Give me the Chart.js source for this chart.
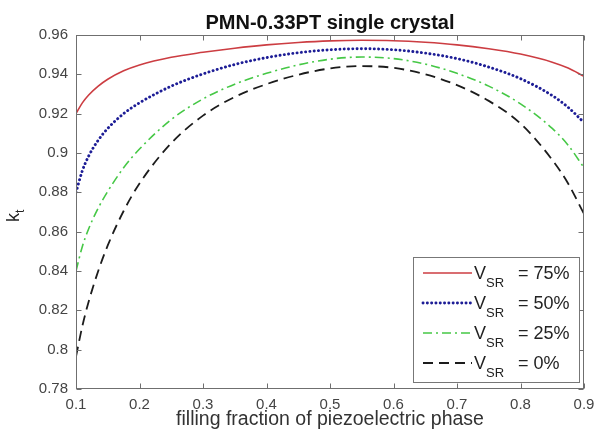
<!DOCTYPE html>
<html>
<head>
<meta charset="utf-8">
<script src="https://cdn.jsdelivr.net/npm/chart.js@4"></script>
<style>
html, body { margin: 0; padding: 0; background: #fff; }
</style>
</head>
<body>
<canvas id="chart" width="595" height="436"></canvas>
<script>
// filling fraction of piezoelectric phase
const fillFraction = [0.1, 0.11, 0.12, 0.135, 0.15, 0.175, 0.2, 0.25, 0.3, 0.35, 0.4, 0.45, 0.5, 0.55, 0.6, 0.65, 0.7, 0.75, 0.8, 0.85, 0.875, 0.9];

// k_t for each V_SR
const kt75 = [0.920, 0.9255, 0.9295, 0.934, 0.9375, 0.9418, 0.9448, 0.9487, 0.9512, 0.9533, 0.955, 0.9562, 0.957, 0.9573, 0.9571, 0.9563, 0.955, 0.953, 0.9503, 0.9462, 0.9432, 0.939];
const kt50 = [0.880, 0.891, 0.8985, 0.9065, 0.9125, 0.920, 0.9255, 0.934, 0.9402, 0.945, 0.9485, 0.951, 0.9525, 0.953, 0.9525, 0.9508, 0.948, 0.9437, 0.9378, 0.9292, 0.9232, 0.9155];
const kt25 = [0.840, 0.8525, 0.8615, 0.872, 0.8805, 0.8925, 0.902, 0.917, 0.9275, 0.935, 0.9405, 0.9448, 0.9477, 0.9488, 0.948, 0.9452, 0.9405, 0.934, 0.925, 0.9125, 0.904, 0.8925];
const kt0  = [0.7965, 0.812, 0.8245, 0.840, 0.853, 0.8705, 0.8845, 0.905, 0.919, 0.9285, 0.935, 0.9398, 0.943, 0.9442, 0.9433, 0.940, 0.9345, 0.9265, 0.915, 0.8965, 0.8845, 0.869];

const vsrLabels = ["= 75%", "= 50%", "= 25%", "= 0%"];

const FONT = "'Liberation Sans', Arial, sans-serif";

function pts(vals) {
    return fillFraction.map((x, i) => ({x: x, y: vals[i]}));
}

function fmt(v) {
    return String(Number(v.toFixed(2)));
}

// frame, inward ticks, legend with subscripts, y label
const decor = {
    id: 'decor',
    afterDraw(chart) {
        const ctx = chart.ctx;
        const a = chart.chartArea;
        const xs = chart.scales.x, ys = chart.scales.y;
        const L = Math.round(a.left) + 0.5, R = Math.round(a.right) - 0.5;
        const T = Math.round(a.top) + 0.5, B = Math.round(a.bottom) - 0.5;
        ctx.save();
        ctx.strokeStyle = '#6f6f6f';
        ctx.lineWidth = 1;
        ctx.setLineDash([]);
        ctx.beginPath();
        xs.ticks.forEach(t => {
            const px = Math.round(xs.getPixelForValue(t.value)) + 0.5;
            ctx.moveTo(px, B); ctx.lineTo(px, B - 5);
            ctx.moveTo(px, T); ctx.lineTo(px, T + 5);
        });
        ys.ticks.forEach(t => {
            const py = Math.round(ys.getPixelForValue(t.value)) + 0.5;
            ctx.moveTo(L, py); ctx.lineTo(L + 5, py);
            ctx.moveTo(R, py); ctx.lineTo(R - 5, py);
        });
        ctx.stroke();
        ctx.strokeRect(L, T, R - L, B - T);

        // legend
        const bx = a.right - 171, by = a.bottom - 132, bw = 166, bh = 125;
        ctx.fillStyle = '#fff';
        ctx.fillRect(bx, by, bw, bh);
        ctx.strokeStyle = '#777';
        ctx.strokeRect(Math.round(bx) + 0.5, Math.round(by) + 0.5, bw, bh);
        chart.data.datasets.forEach((ds, i) => {
            const y = by + 16 + i * 30;
            ctx.save();
            ctx.strokeStyle = ds.borderColor;
            ctx.lineWidth = ds.borderWidth;
            ctx.lineCap = ds.borderCapStyle || 'butt';
            ctx.setLineDash(ds.borderDash || []);
            ctx.beginPath();
            ctx.moveTo(bx + 10, y);
            ctx.lineTo(bx + 59, y);
            ctx.stroke();
            ctx.restore();
            ctx.fillStyle = '#222';
            ctx.textBaseline = 'alphabetic';
            ctx.textAlign = 'left';
            ctx.font = '18px ' + FONT;
            ctx.fillText('V', bx + 61, y + 6);
            const vw = ctx.measureText('V').width;
            ctx.font = '13px ' + FONT;
            ctx.fillText('SR', bx + 61 + vw, y + 14);
            ctx.font = '18px ' + FONT;
            ctx.fillText(vsrLabels[i], bx + 105, y + 6);
        });

        // y axis label k_t
        ctx.save();
        ctx.translate(19, (a.top + a.bottom) / 2 + 4);
        ctx.rotate(-Math.PI / 2);
        ctx.fillStyle = '#222';
        ctx.textAlign = 'left';
        ctx.textBaseline = 'alphabetic';
        ctx.font = '18px ' + FONT;
        ctx.fillText('k', -6, 0);
        const kw = ctx.measureText('k').width;
        ctx.font = '12px ' + FONT;
        ctx.fillText('t', -6 + kw, 5);
        ctx.restore();
        ctx.restore();
    }
};

new Chart("chart", {
    type: 'line',
    data: {
        datasets: [{
            data: pts(kt75),
            borderColor: "#cc3d42",
            borderWidth: 1.6,
            borderDash: [],
            label: "V_SR = 75%"
        }, {
            data: pts(kt50),
            borderColor: "#1d1d96",
            borderWidth: 2.9,
            borderDash: [0.1, 4.2],
            borderCapStyle: 'round',
            label: "V_SR = 50%"
        }, {
            data: pts(kt25),
            borderColor: "#46c846",
            borderWidth: 1.6,
            borderDash: [9, 4, 2, 4],
            label: "V_SR = 25%"
        }, {
            data: pts(kt0),
            borderColor: "#1c1c1c",
            borderWidth: 1.8,
            borderDash: [10, 6],
            label: "V_SR = 0%"
        }]
    },
    options: {
        responsive: false,
        animation: false,
        layout: {padding: {top: 0, right: 11, bottom: 0, left: 0}},
        elements: {
            point: {radius: 0, hoverRadius: 0},
            line: {cubicInterpolationMode: 'monotone', fill: false}
        },
        plugins: {
            legend: {display: false},
            tooltip: {enabled: false},
            title: {
                display: true,
                text: "PMN-0.33PT single crystal",
                fullSize: false,
                color: '#111',
                font: {family: FONT, size: 20, weight: 'bold'},
                padding: {top: 11, bottom: 0}
            }
        },
        scales: {
            x: {
                type: 'linear',
                min: 0.1,
                max: 0.9,
                grid: {display: false, drawTicks: false},
                border: {display: false},
                ticks: {
                    stepSize: 0.1,
                    padding: 7,
                    color: '#444',
                    font: {family: FONT, size: 15},
                    callback: v => fmt(v)
                },
                title: {
                    display: true,
                    text: "filling fraction of piezoelectric phase",
                    color: '#333',
                    font: {family: FONT, size: 19.5},
                    padding: {top: 0, bottom: 5}
                },
                afterFit: s => { s.height = 47; s.paddingLeft = 0; s.paddingRight = 0; }
            },
            y: {
                min: 0.78,
                max: 0.96,
                grid: {display: false, drawTicks: false},
                border: {display: false},
                ticks: {
                    stepSize: 0.02,
                    padding: 8,
                    color: '#444',
                    font: {family: FONT, size: 15},
                    callback: v => fmt(v)
                },
                afterFit: s => { s.width = 76; s.paddingTop = 0; s.paddingBottom = 0; }
            }
        }
    },
    plugins: [decor]
});
</script>
</body>
</html>
